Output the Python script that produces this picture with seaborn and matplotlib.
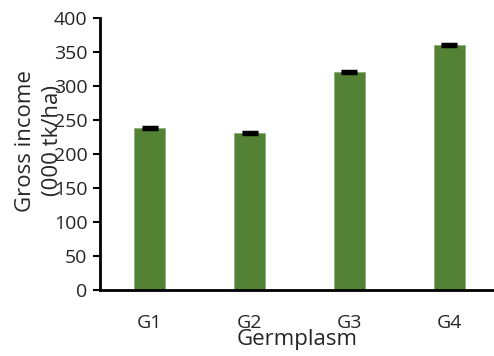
import numpy as np
import pandas as pd
import matplotlib
matplotlib.use("Agg")
import matplotlib.pyplot as plt
import seaborn as sns

# data
germplasm = ["G1", "G2", "G3", "G4"]
gross_income = [238, 231, 321, 360]
error = [1.5, 1.5, 1.5, 1.5]

sns.set_style("white")
plt.rcParams["font.family"] = ["Open Sans", "DejaVu Sans"]

df = pd.DataFrame({"Germplasm": germplasm, "Income": gross_income})

fig = plt.figure(figsize=(4.94, 3.56), dpi=100)
ax = fig.add_axes([0.2024, 0.1854, 0.7976, 0.764])

sns.barplot(data=df, x="Germplasm", y="Income", color="#548235",
            saturation=1, width=0.31, edgecolor="#8fae7a", linewidth=0.6, ax=ax)
ax.errorbar(np.arange(len(germplasm)), gross_income, yerr=error, fmt="none",
            ecolor="black", elinewidth=1.5, capsize=6, capthick=2.5)

ax.set_ylim(0, 400)
ax.set_xlim(-0.5, 3.45)
ax.set_yticks(range(0, 401, 50))
ax.tick_params(axis="y", labelsize=14, length=5, width=1.5, direction="out", left=True, pad=4, color="black")
ax.tick_params(axis="x", labelsize=14, length=0, pad=17)
for side in ["top", "right"]:
    ax.spines[side].set_visible(False)
for side in ["left", "bottom"]:
    ax.spines[side].set_color("black")
    ax.spines[side].set_linewidth(2)

ax.set_xlabel("Germplasm", fontsize=16, labelpad=-2)
# the two label lines sit over the tick labels, as in the original
ax.set_ylabel("Gross income\n(000 tk/ha)", fontsize=16, linespacing=1.4)
ax.yaxis.set_label_coords(-0.093, 0.548)

fig.savefig("out.png", dpi=100)
